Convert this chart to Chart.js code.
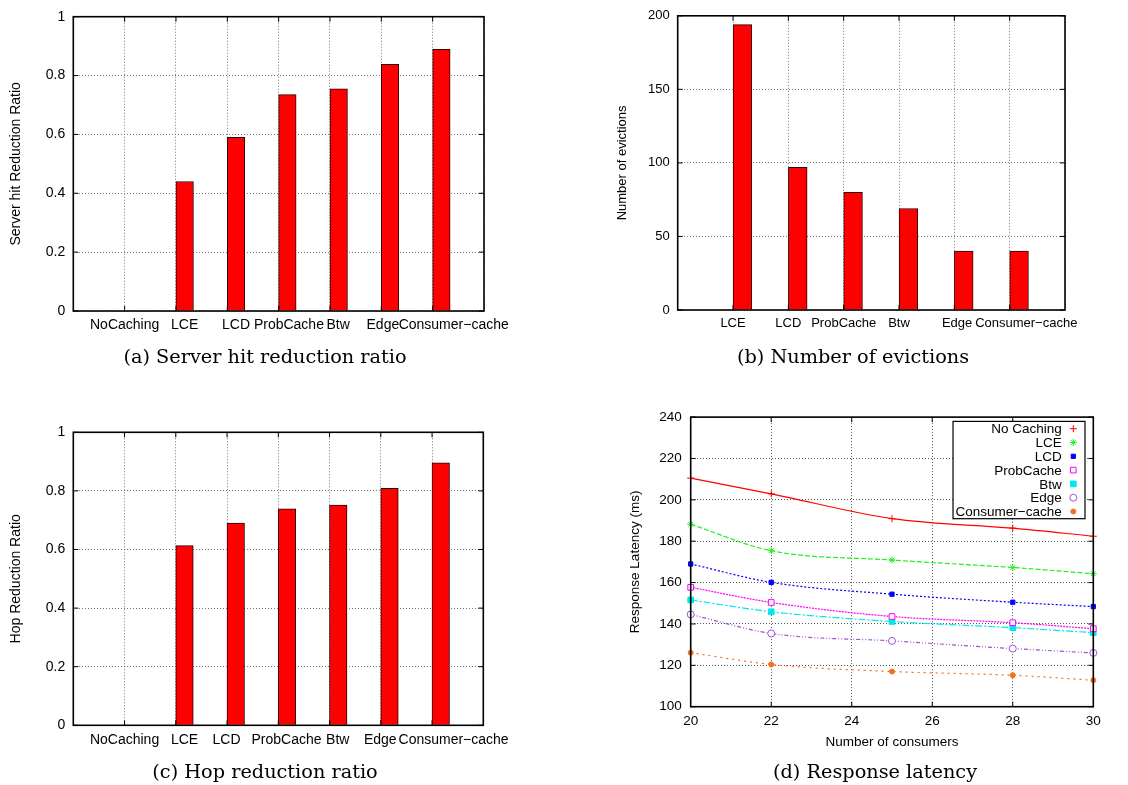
<!DOCTYPE html>
<html>
<head>
<meta charset="utf-8">
<script src="https://cdn.jsdelivr.net/npm/chart.js@4.4.1/dist/chart.umd.min.js"></script>
<style>
  body { margin: 0; background: #fff; width: 1128px; height: 785px; position: relative; overflow: hidden; }
  .box { position: absolute; }
  .cap { position: absolute; font-family: 'DejaVu Serif', 'Liberation Serif', serif; font-size: 19.3px; white-space: nowrap; transform: translate(-50%, -50%); color: #000; }
</style>
</head>
<body>
<div class="box" style="left:0;top:0"><canvas id="hit" width="520" height="345"></canvas></div>
<div class="box" style="left:560px;top:0"><canvas id="evict" width="568" height="345"></canvas></div>
<div class="box" style="left:0;top:400px"><canvas id="hop" width="520" height="360"></canvas></div>
<div class="box" style="left:600px;top:400px"><canvas id="lat" width="528" height="360"></canvas></div>
<div class="cap" style="left:265px;top:356px">(a) Server hit reduction ratio</div>
<div class="cap" style="left:853px;top:356px">(b) Number of evictions</div>
<div class="cap" style="left:265px;top:771px">(c) Hop reduction ratio</div>
<div class="cap" style="left:875px;top:771px">(d) Response latency</div>
<script>
const schemes = ['NoCaching', 'LCE', 'LCD', 'ProbCache', 'Btw', 'Edge', 'Consumer\u2212cache'];
const hitRatio = [0, 0.44, 0.59, 0.735, 0.755, 0.838, 0.889];
const hopRatio = [0, 0.613, 0.69, 0.739, 0.752, 0.809, 0.896];

const evictSchemes = ['LCE', 'LCD', 'ProbCache', 'Btw', 'Edge', 'Consumer\u2212cache'];
const evictions = [194, 97, 80, 69, 40, 40];

const consumers = [20, 22, 25, 28, 30];
const latNames = ['No Caching', 'LCE', 'LCD', 'ProbCache', 'Btw', 'Edge', 'Consumer\u2212cache'];
const latNoCaching = [210.5, 202.9, 190.9, 186.3, 182.4];
const latLCE = [188.2, 175.4, 170.9, 167.3, 164.3];
const latLCD = [169, 160.1, 154.4, 150.5, 148.4];
const latProbCache = [157.7, 150.4, 143.6, 140.6, 137.7];
const latBtw = [151.6, 145.9, 141.2, 138.2, 135.8];
const latEdge = [144.6, 135.4, 131.8, 128.1, 126];
const latConsumer = [126.1, 120.4, 117, 115.2, 112.8];
const latSeries = [latNoCaching, latLCE, latLCD, latProbCache, latBtw, latEdge, latConsumer];

Chart.defaults.font.family = "'Liberation Sans', Arial, sans-serif";
Chart.defaults.color = '#000';

const gridColor = '#777';

// gnuplot style border with inward tick marks
const frame = {
  id: 'frame',
  afterDraw(chart) {
    const { ctx, chartArea: a, scales } = chart;
    const x = scales.x, y = scales.y;
    ctx.save();
    ctx.strokeStyle = '#000';
    ctx.lineWidth = 1;
    ctx.beginPath();
    y.ticks.forEach(t => {
      const py = y.getPixelForValue(t.value);
      ctx.moveTo(a.left, py); ctx.lineTo(a.left + 5, py);
      ctx.moveTo(a.right, py); ctx.lineTo(a.right - 5, py);
    });
    x.ticks.forEach(t => {
      if (t.value <= x.min || t.value >= x.max) return;
      const px = x.getPixelForValue(t.value);
      ctx.moveTo(px, a.bottom); ctx.lineTo(px, a.bottom - 5);
      ctx.moveTo(px, a.top); ctx.lineTo(px, a.top + 5);
    });
    ctx.stroke();
    ctx.lineWidth = 1.6;
    ctx.strokeRect(a.left, a.top, a.right - a.left, a.bottom - a.top);
    ctx.restore();
  }
};

const plainNum = v => String(+v.toFixed(2));

function barChart(id, cats, vals, o) {
  return new Chart(document.getElementById(id), {
    type: 'bar',
    data: {
      datasets: [{
        data: vals.map((v, i) => ({ x: i + o.first + 0.17, y: v })),
        backgroundColor: '#ff0000',
        borderColor: '#2a0000',
        borderWidth: 1,
        barThickness: o.bar,
        xAxisID: 'x',
        yAxisID: 'y'
      }]
    },
    options: {
      responsive: false,
      animation: false,
      font: { size: o.font },
      layout: { padding: { left: o.padL, top: o.padT, right: o.padR, bottom: 0 } },
      plugins: { legend: { display: false }, tooltip: { enabled: false } },
      scales: {
        x: {
          type: 'linear', position: 'bottom', min: o.xmin, max: o.xmax, offset: false,
          ticks: { display: false, stepSize: 1 },
          grid: { offset: false, color: gridColor, drawTicks: false },
          border: { display: false, dash: [1, 2] },
          afterFit: s => { s.height = 0; }
        },
        xl: {
          type: 'linear', position: 'bottom', min: o.xmin, max: o.xmax, offset: false,
          afterBuildTicks: s => { s.ticks = o.labelPos.map(v => ({ value: v })); },
          ticks: { autoSkip: false, maxRotation: 0, padding: 6, font: { size: o.font },
                   callback: (v, i) => cats[i] },
          grid: { display: false, drawTicks: false },
          border: { display: false },
          afterFit: s => { s.height = o.xH; }
        },
        y: {
          min: 0, max: o.ymax,
          ticks: { stepSize: o.step, padding: 8, font: { size: o.font }, callback: plainNum },
          grid: { color: gridColor, drawTicks: false },
          border: { display: false, dash: [1, 2] },
          title: { display: true, text: o.title, font: { size: o.font }, padding: { top: o.titlePad } },
          afterFit: s => { s.width = o.yW; }
        }
      }
    },
    plugins: [frame]
  });
}

barChart('hit', schemes, hitRatio, {
  first: 0, xmin: -1, xmax: 7, bar: 17.5, font: 14, ymax: 1, step: 0.2,
  padL: 0, padT: 16.7, padR: 36, yW: 73.3, xH: 34, titlePad: 7.6,
  labelPos: [0, 1.17, 2.17, 3.2, 4.16, 5.03, 6.41],
  title: 'Server hit Reduction Ratio'
});

barChart('evict', evictSchemes, evictions, {
  first: 1, xmin: 0, xmax: 7, bar: 18.7, font: 13, ymax: 200, step: 50,
  padL: 50, padT: 9.3, padR: 63, yW: 67.7, xH: 35, titlePad: 5,
  labelPos: [1, 2, 3, 4, 5.05, 6.3],
  title: 'Number of evictions'
});

barChart('hop', schemes, hopRatio, {
  first: 0, xmin: -1, xmax: 7, bar: 17.5, font: 14, ymax: 1, step: 0.2,
  padL: 0, padT: 32.3, padR: 36.7, yW: 73.3, xH: 34.7, titlePad: 7.6,
  labelPos: [0, 1.17, 1.99, 3.16, 4.16, 4.99, 6.42],
  title: 'Hop Reduction Ratio'
});

// line styles for the latency plot
const latStyles = [
  { color: '#ff0000', dash: [], point: 'cross', r: 3.5, fill: false },
  { color: '#22ee22', dash: [5, 2], point: 'star', r: 3.5, fill: false },
  { color: '#0000ff', dash: [2, 2], point: 'rect', r: 3, fill: true },
  { color: '#ff00ff', dash: [2, 1], point: 'rect', r: 4, fill: false },
  { color: '#00e8e8', dash: [7, 2, 2, 2], point: 'rect', r: 4, fill: true },
  { color: '#a050d8', dash: [4, 2, 1, 2, 1, 2], point: 'circle', r: 3.5, fill: false },
  { color: '#f5701e', dash: [2, 4], point: 'circle', r: 2.5, fill: true }
];

const latLegend = {
  id: 'latLegend',
  afterDraw(chart) {
    const { ctx, chartArea: a } = chart;
    const sets = chart.data.datasets;
    ctx.save();
    ctx.font = "13.5px 'Liberation Sans'";
    const w = Math.max(...sets.map(d => ctx.measureText(d.label).width));
    const textR = a.right - 31.6, symX = a.right - 20;
    const top = a.top + 4.3, bottom = a.top + 101.6;
    const left = textR - w - 2.5, right = a.right - 8.3;
    ctx.fillStyle = '#fff';
    ctx.fillRect(left, top, right - left, bottom - top);
    ctx.strokeStyle = '#000';
    ctx.lineWidth = 1.2;
    ctx.strokeRect(left, top, right - left, bottom - top);
    ctx.textAlign = 'right';
    ctx.textBaseline = 'middle';
    sets.forEach((d, i) => {
      const yy = a.top + 11.6 + i * 13.8;
      ctx.fillStyle = '#000';
      ctx.fillText(d.label, textR, yy + 1);
      ctx.strokeStyle = d.borderColor;
      ctx.fillStyle = d.pointBackgroundColor;
      ctx.lineWidth = 1;
      Chart.helpers.drawPoint(ctx, { pointStyle: d.pointStyle, radius: d.pointRadius, borderWidth: 1, rotation: 0 }, symX, yy);
    });
    ctx.restore();
  }
};

new Chart(document.getElementById('lat'), {
  type: 'line',
  data: {
    datasets: latSeries.map((vals, k) => ({
      label: latNames[k],
      data: consumers.map((c, i) => ({ x: c, y: vals[i] })),
      borderColor: latStyles[k].color,
      borderDash: latStyles[k].dash,
      borderWidth: 1.2,
      cubicInterpolationMode: 'monotone',
      pointStyle: latStyles[k].point,
      pointRadius: latStyles[k].r,
      pointBorderWidth: 1,
      pointBorderColor: latStyles[k].color,
      pointBackgroundColor: latStyles[k].fill ? latStyles[k].color : '#fff',
      fill: false,
      clip: false
    }))
  },
  options: {
    responsive: false,
    animation: false,
    layout: { padding: { left: 20, top: 15.7, right: 34.7, bottom: 0 } },
    plugins: { legend: { display: false }, tooltip: { enabled: false } },
    scales: {
      x: {
        type: 'linear', min: 20, max: 30,
        ticks: { stepSize: 2, padding: 6, font: { size: 13.5 } },
        grid: { color: '#555', drawTicks: false },
        border: { display: false, dash: [1, 2] },
        title: { display: true, text: 'Number of consumers', font: { size: 13.5 }, padding: { bottom: 10 } },
        afterFit: s => { s.height = 53.3; }
      },
      y: {
        min: 100, max: 240,
        ticks: { stepSize: 20, padding: 9, font: { size: 13.5 } },
        grid: { color: '#555', drawTicks: false },
        border: { display: false, dash: [1, 2] },
        title: { display: true, text: 'Response Latency (ms)', font: { size: 13.5 }, padding: { top: 6.9 } },
        afterFit: s => { s.width = 70.7; }
      }
    }
  },
  plugins: [frame, latLegend]
});
</script>
</body>
</html>
